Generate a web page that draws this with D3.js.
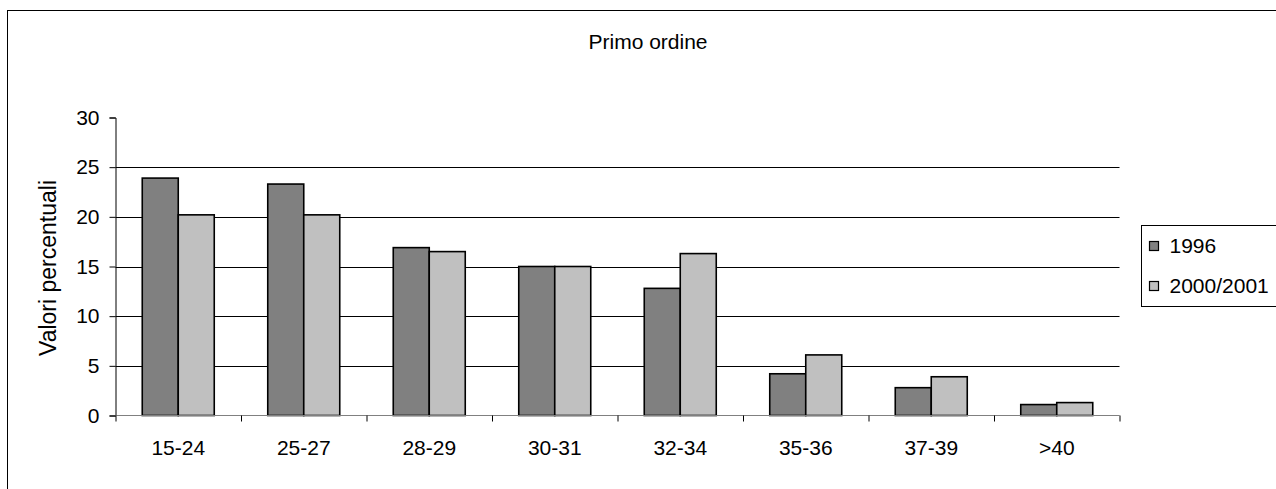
<!DOCTYPE html>
<html>
<head>
<meta charset="utf-8">
<script src="https://cdn.jsdelivr.net/npm/d3@7"></script>
<style>
  html, body { margin: 0; padding: 0; background: #fff; }
  svg { display: block; font-family: "Liberation Sans", Arial, sans-serif; }
</style>
</head>
<body>
<svg id="chart" width="1276" height="489"></svg>
<script>
const categories = ["15-24", "25-27", "28-29", "30-31", "32-34", "35-36", "37-39", ">40"];
const seriesNames = ["1996", "2000/2001"];
const values1996 = [23.9, 23.3, 16.9, 15.0, 12.8, 4.2, 2.8, 1.1];
const values2000 = [20.2, 20.2, 16.5, 15.0, 16.3, 6.1, 3.9, 1.3];
const yTicks = [0, 5, 10, 15, 20, 25, 30];
const gridTicks = [5, 10, 15, 20, 25];
const colors = ["#808080", "#c0c0c0"];
const title = "Primo ordine";
const yTitle = "Valori percentuali";

const svg = d3.select("#chart");
const pLeft = 115.5, pRight = 1119.5, pTop = 117.5, pBottom = 415.5;
const fs = 21;

// outer frame
svg.append("rect").attr("x", 7.5).attr("y", 10.5).attr("width", 1300).attr("height", 600)
  .attr("fill", "none").attr("stroke", "#000").attr("stroke-width", 1);

const x = d3.scaleBand().domain(categories).range([pLeft, pRight]).padding(0);
const bw = x.bandwidth();
const groupW = 72;
const x1 = d3.scaleBand().domain(seriesNames).range([(bw - groupW) / 2, (bw + groupW) / 2]).padding(0);
const y = d3.scaleLinear().domain([0, 30]).range([pBottom, pTop]);

// gridlines
svg.append("g").selectAll("line").data(gridTicks).join("line")
  .attr("x1", pLeft).attr("x2", pRight)
  .attr("y1", d => Math.round(y(d)) + 0.5).attr("y2", d => Math.round(y(d)) + 0.5)
  .attr("stroke", "#000").attr("stroke-width", 1);

// bars
const data = categories.map((c, i) => ({ c, vals: [values1996[i], values2000[i]] }));
const groups = svg.append("g").selectAll("g").data(data).join("g")
  .attr("transform", d => `translate(${x(d.c)},0)`);
groups.selectAll("rect").data(d => d.vals.map((v, j) => ({ v, s: seriesNames[j], j }))).join("rect")
  .attr("x", d => x1(d.s))
  .attr("width", x1.bandwidth())
  .attr("y", d => y(d.v))
  .attr("height", d => y(0) - y(d.v))
  .attr("fill", d => colors[d.j])
  .attr("stroke", "#000").attr("stroke-width", 1.6);

// y axis
const yAxis = d3.axisLeft(y).tickValues(yTicks).tickSize(6).tickPadding(10).tickFormat(d3.format("d"));
const gy = svg.append("g").attr("transform", `translate(${pLeft},0)`).call(yAxis);
gy.select(".domain").attr("stroke", "#000");
gy.selectAll(".tick line").attr("stroke", "#000");
gy.selectAll(".tick text").attr("font-size", fs).attr("fill", "#000")
  .attr("font-family", "Liberation Sans, Arial, sans-serif");

// x axis: boundary ticks
const xb = d3.scaleLinear().domain([0, categories.length]).range([pLeft, pRight]);
const xAxis = d3.axisBottom(xb).tickValues(d3.range(0, categories.length + 1)).tickSize(6).tickFormat("");
const gx = svg.append("g").attr("transform", `translate(0,${pBottom})`).call(xAxis);
gx.select(".domain").attr("stroke", "#808080").attr("d", `M${pLeft},0H${pRight}`);
gx.selectAll(".tick line").attr("stroke", "#000");

// x labels
const xl = d3.axisBottom(x).tickSize(0).tickPadding(25);
const gxl = svg.append("g").attr("transform", `translate(0,${pBottom})`).call(xl);
gxl.select(".domain").remove();
gxl.selectAll(".tick text").attr("font-size", fs).attr("fill", "#000")
  .attr("font-family", "Liberation Sans, Arial, sans-serif");

// title
svg.append("text").attr("x", 648).attr("y", 49).attr("text-anchor", "middle")
  .attr("font-size", fs).attr("fill", "#000").text(title);

// y title
svg.append("text").attr("transform", `translate(56,268) rotate(-90)`)
  .attr("text-anchor", "middle").attr("font-size", 23).attr("fill", "#000").text(yTitle);

// legend
const lg = svg.append("g");
lg.append("rect").attr("x", 1141.5).attr("y", 225.5).attr("width", 200).attr("height", 81)
  .attr("fill", "#fff").attr("stroke", "#000").attr("stroke-width", 1);
const items = lg.selectAll("g.item").data(seriesNames).join("g").attr("class", "item")
  .attr("transform", (d, i) => `translate(1149.5,${241.5 + i * 40})`);
items.append("rect").attr("width", 9).attr("height", 9)
  .attr("fill", (d, i) => colors[i]).attr("stroke", "#000").attr("stroke-width", 1.2);
items.append("text").attr("x", 20).attr("y", 11.5).attr("font-size", fs).attr("fill", "#000").text(d => d);
</script>
</body>
</html>
